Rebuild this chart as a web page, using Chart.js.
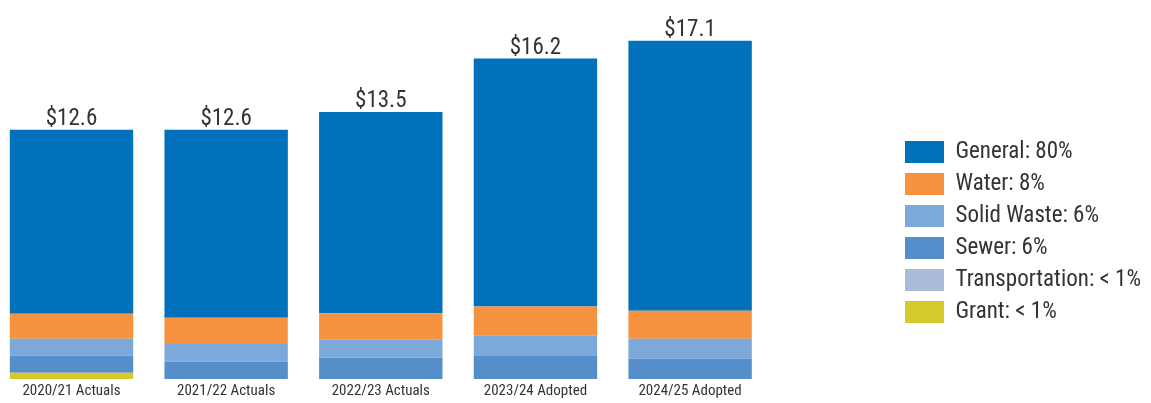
<!DOCTYPE html>
<html>
<head>
<meta charset="utf-8">
<script src="https://cdn.jsdelivr.net/npm/chart.js@4.4.1/dist/chart.umd.min.js"></script>
<style>
  html, body { margin: 0; padding: 0; background: #ffffff; }
  #wrap { width: 1151px; height: 403px; position: relative; }
</style>
</head>
<body>
<div id="wrap"><canvas id="c"></canvas></div>
<script>
// Fiscal years on the x axis
const categories = ['2020/21 Actuals', '2021/22 Actuals', '2022/23 Actuals', '2023/24 Adopted', '2024/25 Adopted'];

// Budget by fund, in $ millions
const general        = [9.30, 9.50, 10.17, 12.54, 13.65];
const water          = [1.27, 1.33, 1.35, 1.47, 1.42];
const solidWaste     = [0.86, 0.88, 0.90, 1.03, 1.00];
const sewer          = [0.85, 0.89, 1.08, 1.16, 1.03];
const transportation = [0.00, 0.00, 0.00, 0.00, 0.00];
const grant          = [0.32, 0.00, 0.00, 0.00, 0.00];

// Legend text (share of the total)
const fundLabels = ['General: 80%', 'Water: 8%', 'Solid Waste: 6%', 'Sewer: 6%', 'Transportation: < 1%', 'Grant: < 1%'];

const FONT = "'Roboto Condensed', 'Liberation Sans Narrow', 'DejaVu Sans Condensed', Roboto, sans-serif";
const TEXT = '#333333';

// Legend geometry
const LEGEND_FONT = 23, BOX_W = 39, BOX_H = 22, LEGEND_PAD = 9;
const measure = document.createElement('canvas').getContext('2d');
measure.font = LEGEND_FONT + 'px ' + FONT;
const widest = Math.max(...fundLabels.map(t => measure.measureText(t).width));
const legendWidth = 2 * LEGEND_PAD + BOX_W + LEGEND_FONT / 2 + widest;
const legendLeft = 897;
const padRight = Math.max(0, 1151 - legendLeft - legendWidth);

// Plot area: first and last column centres sit on its edges
const plotLeft = 71.5, plotRight = 691.1;
const gapWidth = Math.min(legendLeft, 1151 - padRight - legendWidth) - plotRight;

// Total label above each stacked column
const totalsPlugin = {
  id: 'totals',
  afterDatasetsDraw(chart) {
    const ctx = chart.ctx;
    const n = chart.data.datasets.length;
    const topMeta = chart.getDatasetMeta(n - 1);
    ctx.save();
    ctx.font = '23px ' + FONT;
    ctx.fillStyle = TEXT;
    ctx.textAlign = 'center';
    ctx.textBaseline = 'alphabetic';
    chart.data.labels.forEach((_, i) => {
      let total = 0;
      chart.data.datasets.forEach(ds => { total += ds.data[i]; });
      const el = topMeta.data[i];
      ctx.fillText('$' + total.toFixed(1), el.x, el.y - 5);
    });
    ctx.restore();
  }
};

const series = [
  { label: fundLabels[5], data: grant,          color: '#D5C92B' },
  { label: fundLabels[4], data: transportation, color: '#ABBCD9' },
  { label: fundLabels[3], data: sewer,          color: '#548FCB' },
  { label: fundLabels[2], data: solidWaste,     color: '#7CA8DA' },
  { label: fundLabels[1], data: water,          color: '#F79240' },
  { label: fundLabels[0], data: general,        color: '#0071BA' }
];

new Chart(document.getElementById('c'), {
  type: 'bar',
  data: {
    labels: categories,
    datasets: series.map(s => ({
      label: s.label,
      data: s.data,
      backgroundColor: s.color,
      borderWidth: 0,
      clip: false,
      categoryPercentage: 1,
      barPercentage: 0.798
    }))
  },
  options: {
    responsive: true,
    maintainAspectRatio: false,
    animation: false,
    layout: { padding: { left: plotLeft, right: padRight, top: 0, bottom: 0 } },
    plugins: {
      tooltip: { enabled: false },
      legend: {
        position: 'right',
        reverse: true,
        title: { display: true, text: '', padding: 0, font: { size: 10, lineHeight: 6.1 } },
        labels: {
          boxWidth: BOX_W,
          boxHeight: BOX_H,
          padding: LEGEND_PAD,
          color: TEXT,
          font: { family: FONT, size: LEGEND_FONT }
        }
      }
    },
    scales: {
      x: {
        stacked: true,
        offset: false,
        grid: { display: false, drawTicks: false },
        border: { display: false },
        ticks: { color: TEXT, padding: 3, font: { family: FONT, size: 15 } }
      },
      y: {
        stacked: true,
        position: 'right',
        min: 0,
        max: 19.16,
        grid: { display: false, drawTicks: false },
        border: { display: false },
        ticks: { display: false },
        afterFit: scale => { scale.width = gapWidth; }
      }
    }
  },
  plugins: [totalsPlugin]
});
</script>
</body>
</html>
